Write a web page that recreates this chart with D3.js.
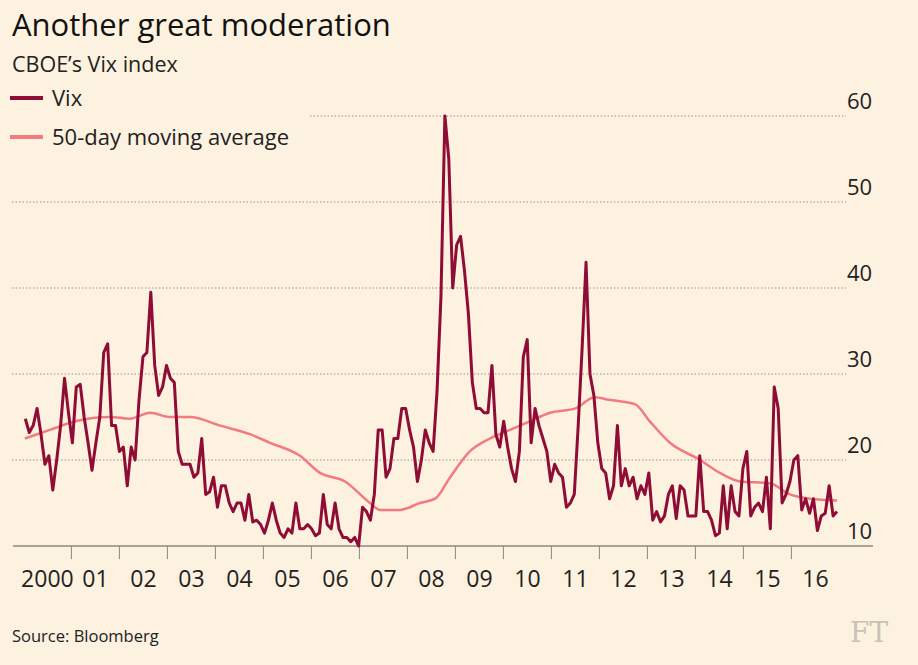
<!DOCTYPE html><html><head><meta charset="utf-8">
<script src="https://cdn.jsdelivr.net/npm/d3@7"></script>
<style>body{margin:0;background:#fdf1df;}svg{display:block;font-family:"Open Sans",sans-serif;}</style></head><body>
<svg id="c" width="918" height="665"></svg>
<script>
const startYear = 2000;
const vix = [24.8,23.2,24,26,23,19.5,20.5,16.5,20,24,29.5,25.5,22,28.5,28.8,25,22,18.8,22,25,32.5,33.5,24,24,21,21.5,17,21.5,20,27,32,32.5,39.5,31,27.5,28.5,31,29.5,29,21,19.5,19.5,19.5,18,18.5,22.5,16,16.3,18,14.5,17,17,15,14,15,15,13,16,12.8,13,12.5,11.5,13,15,13,11.5,11,12,11.5,15,12,12,12.5,12,11.2,11.5,16,12.5,12,15,12,11,11,10.5,11,10,14.5,14,13,16,23.5,23.5,18,19,22.5,22.5,26,26,23.5,21.5,17.5,20,23.5,22,21,28,39,60,55,40,45,46,42,37,29,26,26,25.5,25.5,31,23,21.5,24.5,21.5,19,17.5,21,32,34,22,26,24,22.5,21,17.5,19.5,18.5,18,14.5,15,16,24,33,43,30,27.5,22,19,18.5,15.5,17,24,17,19,17,18,15.5,17,16,18.5,13,14,12.8,13.5,16,17,13.2,17,16.5,13.5,13.5,13.5,20.5,14,14,13,11.2,11.5,17,12,17,14,13.5,19,21,13.5,14.5,15,14,18,12,28.5,26,15,16,17.5,20,20.5,14.2,15.5,13.8,15.5,11.8,13.5,13.8,17,13.5,14];
const maYears = [2000.03,2000.55,2001.08,2001.8,2002.22,2002.64,2003.05,2003.47,2004.1,2004.72,2005.14,2005.76,2006.18,2006.7,2007.22,2007.43,2007.85,2008.26,2008.58,2008.89,2009.3,2009.72,2010.14,2010.55,2010.97,2011.5,2011.9,2012.2,2012.74,2013.05,2013.47,2014.1,2014.51,2014.93,2015.55,2015.97,2016.39,2016.95];
const maValues = [22.5,23.5,24.5,25,24.8,25.5,25,25,24,23,22,20.5,18.5,17.5,15,14.2,14.2,15,15.5,18,21,22.5,23.5,24.5,25.5,26,27.3,27,26.5,24.5,22,20,18.5,17.5,17.3,16,15.5,15.3];
const yTicks = [10,20,30,40,50,60];
const yearLabels = ["2000","01","02","03","04","05","06","07","08","09","10","11","12","13","14","15","16"];

const svg = d3.select("#c");
const x = d3.scaleLinear().domain([2000,2017]).range([23.4,839.4]);
const y = d3.scaleLinear().domain([10,60]).range([546,116]);
const vixYears = vix.map((v,i)=>startYear+0.04+i*(16.95-0.04)/(vix.length-1));

svg.append("text").attr("x",12).attr("y",36).attr("font-size",31).attr("fill","#111").text("Another great moderation");
svg.append("text").attr("x",12).attr("y",72).attr("font-size",21.5).attr("fill","#222").text("CBOE’s Vix index");
[["Vix","#8e0c35",98],["50-day moving average","#f37b80",137]].forEach(([t,c,yy])=>{
  svg.append("line").attr("x1",10).attr("x2",43).attr("y1",yy).attr("y2",yy).attr("stroke",c).attr("stroke-width",4);
  svg.append("text").attr("x",52).attr("y",yy+8).attr("font-size",22).attr("fill","#222").text(t);
});
yTicks.forEach(t=>{
  if(t>10) svg.append("line").attr("x1",t===60?310:12).attr("x2",846).attr("y1",y(t)).attr("y2",y(t))
    .attr("stroke","#9a948c").attr("stroke-dasharray","1.5,2").attr("stroke-width",1);
  svg.append("text").attr("x",847).attr("y",y(t)-7).attr("font-size",22).attr("fill","#222").text(t);
});
svg.append("line").attr("x1",13).attr("x2",873).attr("y1",546).attr("y2",546).attr("stroke","#555").attr("stroke-width",1.2);
d3.range(2001,2017).forEach(yr=>svg.append("line").attr("x1",x(yr)).attr("x2",x(yr)).attr("y1",546).attr("y2",559).attr("stroke","#888"));
yearLabels.forEach((l,i)=>svg.append("text").attr("x",x(2000+i+0.5)).attr("y",587).attr("text-anchor","middle").attr("font-size",23).attr("fill","#222").text(l));

const line = d3.line().x(d=>x(d[0])).y(d=>y(d[1]));
svg.append("path").datum(maYears.map((yr,i)=>[yr,maValues[i]])).attr("d",line.curve(d3.curveMonotoneX)).attr("fill","none").attr("stroke","#f37b80").attr("stroke-width",2.5);
svg.append("path").datum(vix.map((v,i)=>[vixYears[i],v])).attr("d",d3.line().x(d=>x(d[0])).y(d=>y(d[1]))).attr("fill","none").attr("stroke","#8e0c35").attr("stroke-width",3).attr("stroke-linejoin","round");

svg.append("text").attr("x",12).attr("y",642).attr("font-size",16.5).attr("fill","#222").text("Source: Bloomberg");
svg.append("text").attr("x",850).attr("y",642).attr("font-size",28).attr("font-family","'DejaVu Serif',serif").attr("fill","#c9c2b8").text("FT");
</script></body></html>
